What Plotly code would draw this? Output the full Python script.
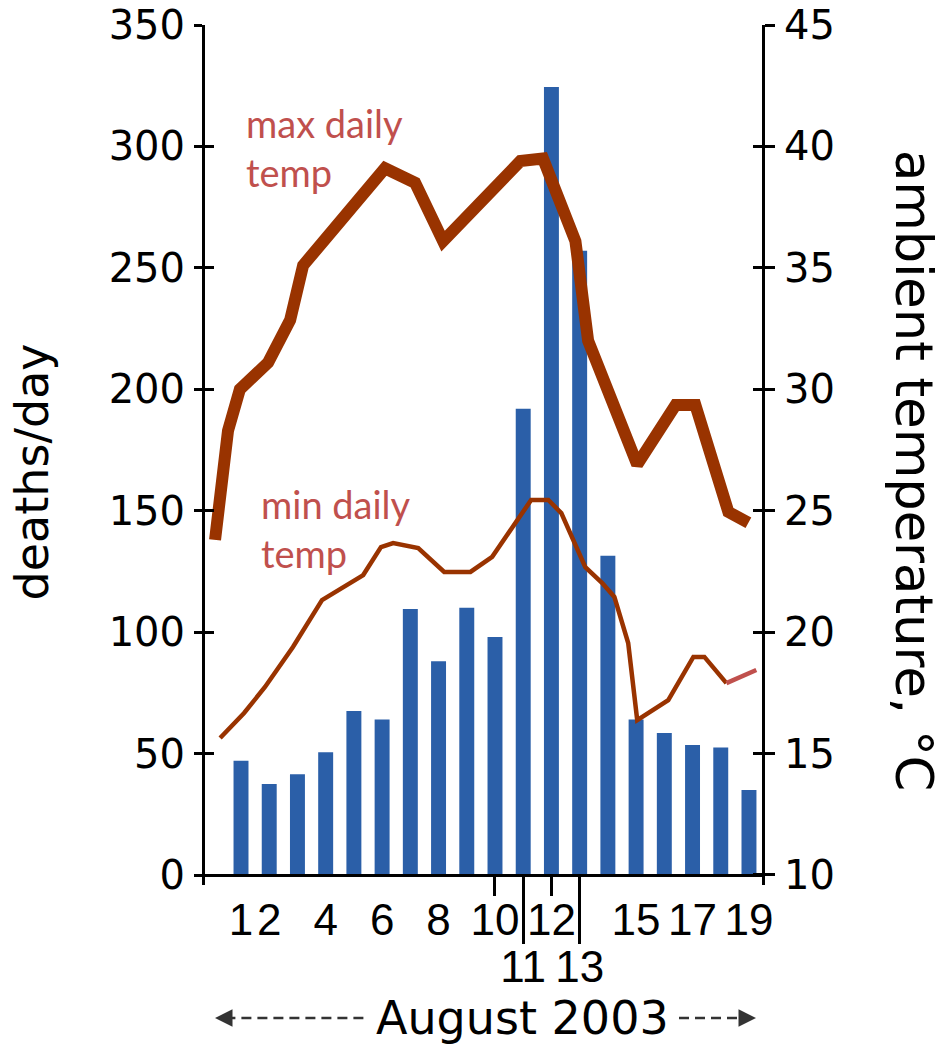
import plotly.graph_objects as go

# ---- data ----
days = list(range(1, 20))
deaths = [47, 37.5, 41.5, 50.5, 67.5, 64, 109.5, 88, 110, 98, 192, 324.5, 257, 131.5, 64, 58.5, 53.5, 52.5, 35]

max_temp_x = [0.08, 0.54, 0.96, 1.96, 2.74, 3.2, 6.1, 7.17, 8.16, 10.9, 11.7, 12.85, 13.3, 14.0, 15.04, 16.4, 17.1, 18.27, 18.98]
max_temp = [23.8, 28.3, 30.0, 31.1, 32.85, 35.1, 39.1, 38.5, 36.1, 39.4, 39.5, 36.1, 32.0, 29.85, 26.9, 29.35, 29.35, 24.95, 24.5]

min_temp_x = [0.26, 1.11, 1.85, 2.84, 3.87, 5.33, 5.96, 6.39, 7.28, 8.2, 9.13, 9.9, 11.28, 11.89, 12.35, 13.2, 13.8, 14.23, 14.72, 15.04, 16.14, 17.03, 17.42, 18.2]
min_temp = [15.64, 16.67, 17.74, 19.39, 21.32, 22.35, 23.5, 23.67, 23.46, 22.48, 22.48, 23.1, 25.44, 25.44, 24.9, 22.68, 22.02, 21.45, 19.55, 16.38, 17.2, 18.98, 18.98, 17.9]
min_tail_x = [18.2, 19.26]
min_tail = [17.9, 18.44]

x_label_days = [1, 2, 4, 6, 8, 10, 12, 15, 17, 19]
x_label_text = ["1", "2", "4", "6", "8", "10", "12", "15", "17", "19"]
x_short_ticks = [10, 12]
x_long_ticks = [11, 13]
x_long_text = ["11", "13"]

left_ticks = [0, 50, 100, 150, 200, 250, 300, 350]
right_ticks = [10, 15, 20, 25, 30, 35, 40, 45]

BLUE = "#2b5fa8"
BROWN = "#993300"
LABEL_RED = "#c0504d"

fig = go.Figure()
fig.add_bar(x=days, y=deaths, width=0.53, marker=dict(color=BLUE, line=dict(width=0)),
            xaxis="x", yaxis="y", showlegend=False, hoverinfo="skip")
# empty traces so the overlaying tick-only axes get drawn
fig.add_scatter(x=[], y=[], xaxis="x", yaxis="y3", showlegend=False, hoverinfo="skip")
fig.add_scatter(x=[], y=[], xaxis="x4", yaxis="y", showlegend=False, hoverinfo="skip")
fig.add_scatter(x=max_temp_x, y=max_temp, mode="lines", line=dict(color=BROWN, width=12),
                xaxis="x2", yaxis="y2", showlegend=False)
fig.add_scatter(x=min_temp_x, y=min_temp, mode="lines", line=dict(color=BROWN, width=4.5),
                xaxis="x3", yaxis="y4", showlegend=False)
fig.add_scatter(x=min_tail_x, y=min_tail, mode="lines", line=dict(color=LABEL_RED, width=4.5),
                xaxis="x3", yaxis="y4", showlegend=False)

XR = [-0.347, 19.497]
YL = [-4.118, 350]
YR = [9.588, 45]
XPOS = 0.01163
XFONT = dict(family="Liberation Sans Narrow, Liberation Sans", size=44, color="black")
YFONT = dict(family="DejaVu Sans", size=40, color="black")
common = dict(automargin=False, showgrid=False, zeroline=False, fixedrange=True)

fig.update_layout(
    width=944, height=1050,
    margin=dict(l=203, r=181, t=25, b=165, autoexpand=False),
    plot_bgcolor="white", paper_bgcolor="white",
    xaxis=dict(range=XR, anchor="free", position=XPOS, showline=True, linecolor="black", linewidth=2.5,
               tickmode="array", tickvals=x_label_days, ticktext=x_label_text, ticks="",
               tickfont=XFONT, ticklabelstandoff=5, **common),
    xaxis2=dict(range=XR, overlaying="x", anchor="free", position=XPOS, showline=False,
                tickmode="array", tickvals=x_short_ticks, ticks="outside", ticklen=20, tickwidth=2.5,
                tickcolor="black", showticklabels=False, **common),
    xaxis3=dict(range=XR, overlaying="x", anchor="free", position=XPOS, showline=False,
                tickmode="array", tickvals=x_long_ticks, ticktext=x_long_text, ticks="",
                tickfont=XFONT, ticklabelstandoff=62, **common),
    xaxis4=dict(range=XR, overlaying="x", anchor="free", position=XPOS, showline=False,
                tickmode="array", tickvals=x_long_ticks, ticks="outside", ticklen=68,
                tickwidth=2.5, tickcolor="black", showticklabels=False, **common),
    yaxis=dict(range=YL, anchor="free", position=0, side="left", showline=True, linecolor="black", linewidth=3,
               tickmode="array", tickvals=left_ticks, ticks="outside", ticklen=8, tickwidth=3,
               tickcolor="black", tickfont=YFONT, ticklabelstandoff=1, **common),
    yaxis3=dict(range=YL, overlaying="y", anchor="free", position=0, side="left", showline=False,
                tickmode="array", tickvals=left_ticks, ticks="inside", ticklen=10, tickwidth=3,
                tickcolor="black", showticklabels=False, **common),
    yaxis2=dict(range=YR, overlaying="y", anchor="free", position=1, side="right", showline=True,
                linecolor="black", linewidth=3, tickmode="array", tickvals=right_ticks, ticks="outside",
                ticklen=10, tickwidth=3, tickcolor="black", tickfont=YFONT, ticklabelstandoff=1, **common),
    yaxis4=dict(range=YR, overlaying="y", anchor="free", position=1, side="right", showline=False,
                tickmode="array", tickvals=right_ticks, ticks="inside", ticklen=10, tickwidth=3,
                tickcolor="black", showticklabels=False, **common),
)

ann = []
ann.append(dict(text="max daily<br>temp", x=0.073, y=0.857, xref="paper", yref="paper",
                xanchor="left", yanchor="middle", align="left", showarrow=False,
                font=dict(family="Lato", size=38, color=LABEL_RED)))
ann.append(dict(text="min daily<br>temp", x=0.10, y=0.414, xref="paper", yref="paper",
                xanchor="left", yanchor="middle", align="left", showarrow=False,
                font=dict(family="Lato", size=38, color=LABEL_RED)))
ann.append(dict(text="deaths/day", x=-0.305, y=0.48, xref="paper", yref="paper", textangle=-90,
                xanchor="center", yanchor="middle", showarrow=False,
                font=dict(family="DejaVu Sans", size=46, color="black")))
ann.append(dict(text="ambient temperature, °C", x=1.268, y=0.4826, xref="paper", yref="paper", textangle=90,
                xanchor="center", yanchor="middle", showarrow=False,
                font=dict(family="DejaVu Sans", size=51, color="black")))
ann.append(dict(text="August 2003", x=0.57, y=-0.1547, xref="paper", yref="paper",
                xanchor="center", yanchor="middle", showarrow=False,
                font=dict(family="DejaVu Sans", size=46, color="black")))
# arrow heads
ann.append(dict(text="", x=0.0214, y=-0.1547, xref="paper", yref="paper", showarrow=True,
                ax=18, ay=0, arrowhead=2, arrowsize=1.4, arrowwidth=2.5, arrowcolor="#333333"))
ann.append(dict(text="", x=0.9875, y=-0.1547, xref="paper", yref="paper", showarrow=True,
                ax=-18, ay=0, arrowhead=2, arrowsize=1.4, arrowwidth=2.5, arrowcolor="#333333"))
fig.update_layout(annotations=ann)

fig.add_shape(type="line", xref="paper", yref="paper", x0=0.04, x1=0.29, y0=-0.1547, y1=-0.1547,
              line=dict(color="#333333", width=2.5, dash="10px,6px"))
fig.add_shape(type="line", xref="paper", yref="paper", x0=0.85, x1=0.96, y0=-0.1547, y1=-0.1547,
              line=dict(color="#333333", width=2.5, dash="10px,6px"))

fig.write_html("out.html", config={"displayModeBar": False},
               post_script="document.body.style.margin='0px';")
